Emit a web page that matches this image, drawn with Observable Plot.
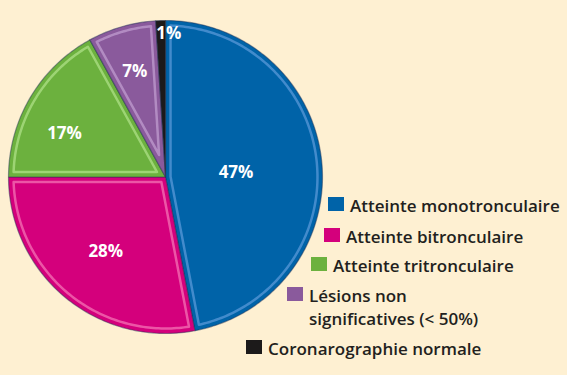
<!DOCTYPE html>
<html>
<head>
<meta charset="utf-8">
<script src="https://cdn.jsdelivr.net/npm/d3@7"></script>
<script src="https://cdn.jsdelivr.net/npm/@observablehq/plot@0.6"></script>
<style>
  html, body { margin: 0; padding: 0; background: #fef0d2; }
  #chart { position: relative; width: 567px; height: 375px; overflow: hidden; }
  .leg { position: absolute; font-family: "Open Sans", sans-serif; font-weight: 600; font-size: 17px; color: #231f20; line-height: 23px; white-space: nowrap; }
  .leg .sw { position: absolute; width: 16px; height: 14px; left: 0; top: 3px; }
  .leg .tx { position: absolute; left: 22px; top: 0; }
</style>
</head>
<body>
<div id="chart"></div>
<script>
// ---- data ----
const categories = [
  "Atteinte monotronculaire",
  "Atteinte bitronculaire",
  "Atteinte tritronculaire",
  "Lésions non significatives (< 50%)",
  "Coronarographie normale"
];
const values = [47, 28, 17, 7, 1];
const labels = ["47%", "28%", "17%", "7%", "1%"];
const legendLines = [
  ["Atteinte monotronculaire"],
  ["Atteinte bitronculaire"],
  ["Atteinte tritronculaire"],
  ["Lésions non", "significatives (< 50%)"],
  ["Coronarographie normale"]
];
const colors = ["#0063a8", "#d4007c", "#6cb13e", "#8a5a9c", "#1c1a1a"];
const rims = ["#4d92d2", "#f064ae", "#a6da7e", "#b994c9", "#555555"];

// ---- layout (not data) ----
const labelRadius = [0.45, 0.61, 0.70, 0.70, 0.92];
const labelFrac = [0.51, 0.49, 0.38, 0.5, 0.5];
const labelDx = [0, 0, 0, 0, 0.05];
const legendPos = [[328, 194], [324, 225], [311, 254], [287, 284], [246, 337]];
const inset = 0.032;

// ---- geometry from data ----
const pie = d3.pie().sort(null).value(d => d)(values);
const slices = [];
const rimPts = [];
const labelPts = [];
pie.forEach((p, i) => {
  const a0 = p.startAngle, a1 = p.endAngle;
  const n = Math.max(2, Math.ceil((a1 - a0) / (Math.PI / 180)));
  slices.push({k: i, x: 0, y: 0});
  for (let j = 0; j <= n; j++) {
    const a = a0 + (a1 - a0) * j / n;
    slices.push({k: i, x: Math.sin(a), y: Math.cos(a)});
  }
  // inset bevel outline
  const th = a1 - a0;
  if (th > 0.2) {
    const ri = 1 - inset;
    const da = Math.asin(inset / ri);
    const mid = (a0 + a1) / 2;
    const rc = inset / Math.sin(th / 2);
    rimPts.push({k: i, x: rc * Math.sin(mid), y: rc * Math.cos(mid)});
    const b0 = a0 + da, b1 = a1 - da;
    for (let j = 0; j <= n; j++) {
      const a = b0 + (b1 - b0) * j / n;
      rimPts.push({k: i, x: ri * Math.sin(a), y: ri * Math.cos(a)});
    }
  }
  const m = a0 + (a1 - a0) * labelFrac[i];
  labelPts.push({k: i, text: labels[i], x: labelRadius[i] * Math.sin(m) + labelDx[i], y: labelRadius[i] * Math.cos(m)});
});

const chart = Plot.plot({
  width: 567,
  height: 375,
  marginLeft: 8,
  marginRight: 245,
  marginTop: 20,
  marginBottom: 42,
  x: {domain: [-1, 1], axis: null},
  y: {domain: [-1, 1], axis: null},
  color: {domain: d3.range(categories.length), range: colors},
  style: {background: "transparent", overflow: "visible"},
  marks: [
    Plot.line(slices, {x: "x", y: "y", z: "k", fill: d => d.k, curve: "linear-closed", stroke: "#1d2f52", strokeOpacity: 0.45, strokeWidth: 1.2}),
    Plot.line(rimPts, {x: "x", y: "y", z: "k", curve: "linear-closed", stroke: d => rims[d.k], strokeWidth: 2.5, strokeOpacity: 0.85}),
    Plot.text(labelPts, {x: "x", y: "y", text: "text", fill: "white", fontSize: 17, fontWeight: 700, fontFamily: "Open Sans, sans-serif"})
  ]
});

const host = document.getElementById("chart");
host.appendChild(chart);

categories.forEach((c, i) => {
  const div = document.createElement("div");
  div.className = "leg";
  div.style.left = legendPos[i][0] + "px";
  div.style.top = legendPos[i][1] + "px";
  const sw = document.createElement("div");
  sw.className = "sw";
  sw.style.background = colors[i];
  div.appendChild(sw);
  const tx = document.createElement("div");
  tx.className = "tx";
  tx.innerHTML = legendLines[i].join("<br>");
  div.appendChild(tx);
  host.appendChild(div);
});
</script>
</body>
</html>
